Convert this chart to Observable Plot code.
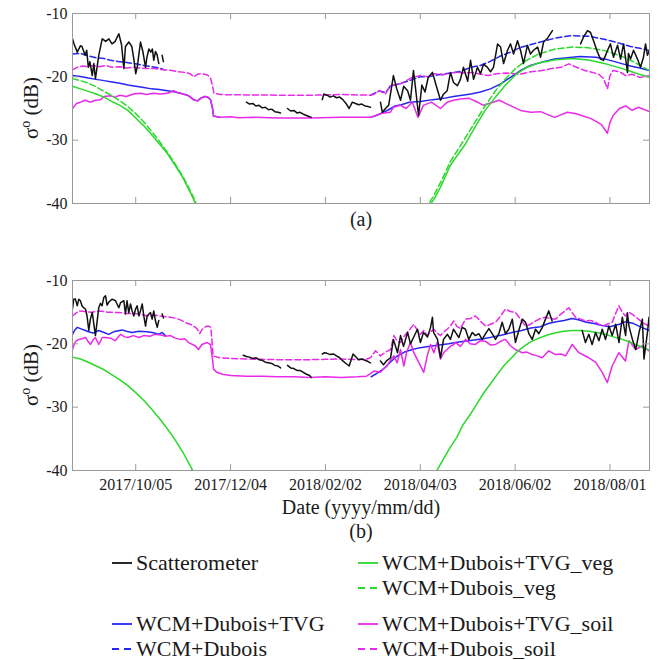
<!DOCTYPE html>
<html><head><meta charset="utf-8">
<script src="https://cdn.jsdelivr.net/npm/d3@7"></script>
<script src="https://cdn.jsdelivr.net/npm/@observablehq/plot@0.6"></script>
<style>
body{margin:0;background:#fff;}
#chart{position:relative;width:668px;height:660px;font-family:"Liberation Serif",serif;}
#chart > svg{position:absolute;left:0;}
</style></head><body><div id="chart"></div>
<script>
// Dates are given as days since START (2017-08-26)
const START = Date.UTC(2017, 7, 26);
const END = Date.UTC(2018, 7, 26);
const xTickDates = ["2017-10-05","2017-12-04","2018-02-02","2018-04-03","2018-06-02","2018-08-01"];
const yTicks = [-40, -30, -20, -10];
const yLabel = ["σ", "o", " (dB)"];
const xLabel = "Date (yyyy/mm/dd)";
const panelLabels = ["(a)", "(b)"];

const seriesNames = ["Scatterometer","WCM+Dubois+TVG","WCM+Dubois","WCM+Dubois+TVG_veg","WCM+Dubois_veg","WCM+Dubois+TVG_soil","WCM+Dubois_soil"];
const seriesColors = ["#111111","#2626f2","#2626f2","#2ad92a","#2ad92a","#ea2aea","#ea2aea"];
const seriesDashed = [false,false,true,false,true,false,true];

// ---------- Panel (a) ----------
const a_scat = [[0,-14.0],[1,-14.8],[3,-16.1],[5,-15.1],[6,-15.2],[8,-16.6],[9,-15.8],[10,-18.5],[11,-17.6],[12.5,-19.8],[13.5,-17.9],[14.5,-20.3],[15.5,-18.6],[16.6,-16.6],[18.8,-14.0],[20,-14.2],[21,-14.4],[23,-14.0],[25,-14.8],[27,-14.4],[29.3,-13.2],[31,-14.9],[32.5,-18.7],[33.5,-15.2],[35.6,-14.5],[37.5,-15.2],[38.8,-17.2],[40,-19.5],[41,-18.4],[43,-14.5],[44.5,-16.0],[46.2,-18.5],[47,-17.0],[48.3,-15.6],[49.5,-16.1],[50.5,-15.6],[51.4,-17.4],[52.5,-16.0],[53.5,-16.5],[54.6,-17.9],[55.5,null],[56.7,-16.6],[57.5,-17.6],[58,null],
[110,-24.0],[112,-24.3],[114,-24.2],[116,-24.6],[118,-24.5],[120,-24.9],[122,-24.8],[124,-25.2],[126,-25.1],[128,-25.5],[130,-25.6],[131.6,-25.7],[133,null],[136,-25.0],[138,-25.4],[140,-25.3],[142,-25.7],[144,-25.6],[146,-25.9],[148,-26.1],[150,-26.3],[151,-26.4],[152,null],
[158,-23.6],[159,-22.7],[161,-22.9],[163,-23.2],[165,-23.0],[167,-23.3],[169,-23.2],[171,-23.6],[173,-24.2],[175,-25.0],[177,-24.0],[179,-24.2],[181,-24.4],[183,-24.3],[185,-24.6],[187,-24.7],[188.5,-24.8],[190,null],
[194.8,-24.0],[196,-25.6],[198,-25.0],[200,-24.5],[203,-19.8],[205,-21.8],[207.5,-23.7],[209.5,-21.5],[212,-22.2],[213.8,-23.7],[215.7,-19.0],[217,-21.8],[218.9,-26.1],[221,-21.3],[223,-22.4],[225,-20.1],[227.7,-19.3],[229.5,-20.9],[232.8,-23.7],[234.5,-22.8],[237,-22.2],[239.1,-19.3],[241,-20.9],[243.5,-21.4],[245.4,-20.4],[247.3,-18.5],[250,-20.7],[251.8,-17.4],[253.7,-20.4],[256.2,-18.5],[258.1,-19.5],[260,-18.0],[262.5,-18.5],[264.4,-19.2],[266.3,-18.5],[268.9,-14.8],[270.8,-15.3],[272.7,-17.9],[275.2,-15.8],[277.1,-14.8],[279,-16.4],[281.5,-14.3],[283.4,-15.8],[285.3,-17.9],[287.8,-15.0],[289.7,-16.4],[291.6,-15.8],[294.2,-15.3],[296.1,-16.9],[298,-14.5],[300.5,-13.9],[303.6,-12.7],[305,null],
[321.4,-14.8],[323.3,-13.7],[325.8,-12.7],[327.7,-13.0],[329.6,-14.3],[332.1,-16.1],[334,-17.2],[335.9,-17.4],[338.5,-15.8],[340.3,-14.8],[342.2,-16.9],[344.8,-15.0],[346.7,-17.2],[348.6,-14.8],[351.1,-19.3],[351.7,-16.3],[353,-17.2],[354.9,-15.8],[357.4,-17.2],[359.3,-18.5],[361.2,-16.9],[362.5,-14.8],[363.7,-16.6],[365,-15.8]];

const a_tvg = [[0,-19.8],[5,-19.95],[10,-20.2],[15,-20.4],[20,-20.6],[25,-20.8],[30,-21.0],[35,-21.3],[40,-21.5],[45,-21.7],[50,-21.9],[55,-22.0],[60,-22.2],[65,-22.4],[68.3,-22.6],[72.7,-22.9],[74.6,-23.2],[76.5,-23.6],[79.1,-23.8],[81,-23.4],[83.5,-23.1],[85.4,-23.2],[87.3,-23.6],[88.6,-25.0],[89.2,-26.2],[93.6,-26.4],[94,null],
[188.5,-26.4],[192,-26.1],[196,-25.7],[200,-25.2],[204,-24.6],[208,-24.4],[213,-24.0],[220,-23.9],[228,-23.6],[235,-23.4],[241,-23.1],[245.4,-22.95],[252,-22.7],[258,-22.4],[264.4,-21.9],[270.8,-21.1],[277,-20.1],[283.4,-19.0],[289.7,-18.2],[298,-17.6],[305,-17.2],[313,-17.0],[321,-16.8],[331,-16.9],[337,-17.2],[343,-17.6],[348,-17.95],[353,-18.3],[359,-18.6],[365,-19.0]];

const a_dub = [[0,-16.4],[5,-16.3],[10,-16.7],[15,-17.0],[20,-17.1],[24,-17.4],[30,-17.6],[36,-17.8],[40,-17.95],[45,-18.2],[50,-18.4],[55,-18.6],[58,-18.9],[59,null],
[188.5,-22.9],[191,-22.6],[194,-22.2],[198,-22.5],[201,-21.5],[205,-21.2],[208,-21.0],[213,-20.6],[220,-20.0],[225,-20.0],[233,-19.6],[240,-19.4],[246,-19.1],[252,-18.5],[258,-18.2],[264,-17.6],[270,-16.8],[277,-16.1],[283,-15.4],[290,-14.9],[296,-14.5],[305,-13.9],[315,-13.5],[327,-13.6],[337,-14.1],[346,-14.7],[353,-15.2],[359,-15.5],[365,-15.85]];

const a_vegTvg = [[0,-21.5],[5,-21.9],[10,-22.3],[15,-22.7],[20,-23.2],[25,-23.9],[30,-24.5],[35,-25.3],[40,-26.5],[45,-27.7],[50,-29.1],[55,-30.6],[60,-32.1],[65,-34.0],[70,-36.0],[75,-38.5],[80,-41.2],[81,null],
[224,-41.0],[229,-39.2],[233,-37.3],[239,-34.0],[242,-32.9],[248.6,-30.6],[255,-27.8],[261,-25.3],[267.6,-23.2],[273.9,-21.3],[280.2,-19.7],[286.6,-18.6],[294.8,-17.8],[305.5,-17.3],[316.3,-17.1],[326.4,-17.35],[337.2,-17.95],[347.9,-18.7],[356.1,-19.4],[365,-20.1]];

const a_vegDub = [[0,-20.3],[5,-20.6],[10,-21.0],[15,-21.6],[20,-22.3],[25,-23.0],[30,-23.8],[35,-24.7],[40,-25.8],[45,-27.1],[50,-28.6],[55,-30.2],[60,-31.9],[65,-33.8],[70,-35.8],[75,-38.2],[80,-41.0],[81,null],
[223,-41.0],[228,-39.0],[233,-36.6],[239,-33.4],[242,-32.2],[248.6,-29.6],[255,-27.0],[261,-24.6],[267.6,-22.2],[273.9,-20.3],[280.2,-18.7],[286.6,-17.5],[294.8,-16.4],[305.5,-15.6],[316.3,-15.3],[326.4,-15.4],[337.2,-15.9],[347.9,-16.8],[356.1,-17.8],[365,-19.0]];

const a_soilTvg = [[0,-25.0],[2.5,-24.2],[5,-24.0],[8,-23.7],[11,-24.0],[14.5,-23.7],[17.7,-23.6],[20,-23.1],[24,-23.0],[27,-23.2],[30,-22.9],[34,-23.1],[38.6,-22.7],[43,-22.6],[47,-22.8],[51,-22.6],[55.7,-22.7],[60,-22.6],[64,-22.2],[66.4,-22.5],[68.3,-22.6],[72.7,-22.9],[74.6,-23.2],[76.5,-23.6],[79.1,-23.8],[81,-23.4],[83.5,-23.1],[85.4,-23.2],[87.3,-23.6],[88.6,-25.0],[89.2,-26.2],[93.6,-26.4],[100,-26.3],[105,-26.45],[115,-26.4],[130,-26.5],[150,-26.5],[170,-26.4],[185,-26.4],[188.5,-26.4],[192,-26.1],[195,-25.8],[201,-25.6],[203,-24.8],[207.5,-24.5],[211,-25.0],[215,-24.0],[218.5,-26.4],[222,-24.5],[227,-24.0],[232.8,-25.0],[237,-24.0],[241,-23.7],[245.4,-23.5],[251,-23.4],[257,-24.1],[260,-24.5],[266,-24.0],[270,-23.7],[274,-24.2],[283.4,-25.3],[290,-25.6],[296,-25.5],[305,-26.4],[313,-25.6],[318,-25.8],[322,-26.1],[328,-26.6],[334.5,-27.5],[338.4,-28.9],[340,-27.2],[342,-26.1],[346,-25.0],[350,-24.6],[354,-25.3],[358,-24.8],[365,-25.5]];

const a_soilDub = [[0,-18.9],[3,-18.5],[6,-18.3],[10,-18.4],[13,-18.2],[17,-18.4],[21,-18.2],[25,-18.5],[30,-18.4],[34,-18.6],[39,-18.5],[43,-18.6],[47,-18.7],[52,-18.7],[58,-18.9],[63,-19.0],[66.5,-19.2],[71,-19.3],[74.6,-19.5],[76.5,-20.0],[79,-19.6],[81,-19.5],[83.5,-19.6],[85.4,-19.7],[87.3,-20.2],[88.6,-21.5],[89.5,-22.6],[93.6,-22.8],[110,-22.85],[130,-22.9],[150,-22.9],[170,-22.8],[188.5,-22.9],[191,-22.7],[194,-22.2],[198,-22.7],[201,-21.4],[207.5,-21.1],[211,-20.6],[215,-20.1],[220,-19.8],[225,-20.0],[229,-19.5],[234,-19.7],[238,-19.4],[243,-19.3],[248,-19.4],[253,-19.3],[258,-19.6],[263,-19.8],[268,-19.5],[275,-19.4],[283,-19.6],[290,-19.2],[297,-19.0],[303,-18.7],[309,-18.5],[314,-17.95],[318,-18.4],[324,-19.0],[329,-19.3],[333,-19.6],[336,-20.3],[338.4,-21.9],[340,-19.8],[342,-19.0],[346,-19.2],[350,-19.8],[354,-19.6],[359,-20.1],[365,-19.8]];

// ---------- Panel (b) ----------
const b_scat = [[0,-14.5],[0.8,-12.95],[1.8,-12.9],[3,-14.0],[4,-12.95],[5,-13.2],[6,-14.0],[7,-14.3],[8.2,-14.5],[9.2,-15.6],[10.3,-17.9],[11.3,-16.1],[12.5,-15.05],[13.5,-16.9],[14.5,-18.7],[15.5,-16.6],[16.6,-14.3],[17.7,-13.6],[18.7,-14.0],[19.8,-12.7],[20.9,-12.4],[21.9,-13.9],[23,-13.4],[25.1,-12.95],[27.2,-13.2],[29.3,-14.3],[30.4,-13.5],[32.5,-13.2],[33.5,-15.3],[34.5,-13.2],[35.6,-15.1],[36.7,-13.7],[37.7,-14.8],[38.8,-15.6],[39.9,-14.5],[40.9,-14.0],[42,-15.6],[43,-14.8],[44.1,-13.7],[45.1,-15.6],[46.2,-17.2],[47.2,-15.6],[49.3,-15.05],[50.4,-16.1],[51.4,-14.8],[52.5,-16.4],[53.6,-17.4],[54.6,-16.3],[55.5,null],[56.7,-15.3],[57.5,-15.9],[58,null],
[108,-21.8],[110,-22.0],[112,-22.1],[114,-22.3],[116,-22.2],[118,-22.5],[120,-22.6],[122,-22.9],[124,-23.0],[126,-23.1],[128,-23.4],[130,-23.5],[131.6,-23.8],[133,null],[136,-23.4],[138,-23.8],[140,-23.9],[142,-24.2],[144,-24.2],[146,-24.5],[148,-24.8],[150,-25.0],[151,-25.3],[152,null],
[158,-21.6],[159.5,-21.4],[161,-21.5],[163,-21.7],[165,-21.6],[167,-21.9],[169,-22.2],[171,-22.7],[173,-23.1],[175,-23.5],[177.5,-21.6],[179,-22.0],[181,-22.5],[183,-22.4],[185,-22.6],[187,-22.8],[188.5,-23.0],[190,null],
[194.8,-22.7],[196.7,-23.3],[199,-22.6],[201.2,-22.2],[203,-19.3],[205.6,-21.4],[207.5,-18.7],[209.4,-20.4],[212,-18.2],[213.8,-20.0],[215.7,-19.0],[218.2,-17.7],[220.1,-19.8],[222,-18.2],[224.6,-18.9],[226.5,-17.4],[227.7,-15.8],[228.4,-18.2],[230.9,-19.3],[232.8,-22.2],[234.7,-19.3],[237.2,-18.5],[239.1,-19.3],[241,-17.7],[242.3,-18.2],[244.4,-19.0],[246.5,-17.4],[248.6,-17.7],[250.7,-19.3],[252.9,-18.2],[254.9,-18.7],[257,-18.4],[259.2,-19.3],[261.3,-18.4],[263.4,-17.6],[265.5,-18.4],[267.6,-19.3],[269.7,-18.4],[271.8,-16.6],[273.9,-18.4],[276,-17.7],[278.2,-16.1],[280.2,-19.8],[282.3,-17.9],[284.5,-16.1],[286.6,-16.6],[288.7,-18.4],[290.8,-19.3],[292.9,-17.7],[295,-18.4],[297.2,-17.4],[299.2,-16.1],[301.3,-14.8],[303.4,-16.4],[304.5,null],
[322.4,-17.9],[324.5,-19.8],[326.6,-18.5],[328.7,-20.1],[330.9,-18.2],[333,-19.5],[335.1,-17.7],[337.2,-19.3],[339.3,-17.2],[341.4,-18.7],[343.6,-16.9],[345.7,-19.8],[347.8,-15.8],[349.9,-18.7],[351,-15.1],[352,-17.2],[354.2,-19.3],[356.3,-20.9],[358.4,-18.2],[360.5,-16.1],[361.5,-22.4],[363.7,-18.2],[364.7,-15.8]];

const b_tvg = [[0,-18.5],[1.5,-17.8],[3,-17.4],[5,-17.6],[8.2,-17.9],[10,-18.1],[13,-18.3],[16.6,-17.9],[20,-18.2],[22.9,-18.5],[26,-18.1],[31.4,-17.8],[34,-18.0],[37.7,-18.2],[42,-18.0],[47,-18.1],[50.5,-18.2],[54.6,-18.5],[56.7,-18.2],[58.8,-18.7],[59,null],
[189,-25.2],[193,-24.6],[197,-23.9],[201,-22.9],[205,-22.0],[210,-21.3],[215,-20.9],[220,-20.6],[226,-20.4],[232,-20.2],[238,-20.0],[242.3,-19.8],[248,-19.6],[254,-19.4],[260,-19.2],[266,-18.9],[271.8,-18.6],[278,-18.2],[284,-17.9],[290,-17.5],[296,-17.3],[301,-16.8],[306,-16.5],[311,-16.3],[316,-16.0],[320,-16.2],[325,-16.6],[330,-16.8],[335,-17.1],[340,-17.3],[346,-16.9],[350,-16.5],[355,-16.8],[360,-17.4],[365,-17.9]];

const b_veg = [[0,-22.1],[5,-22.4],[10,-22.9],[15,-23.5],[20,-24.1],[25,-24.9],[30,-25.7],[35,-26.6],[40,-27.7],[45,-28.9],[50,-30.3],[55,-31.8],[60,-33.4],[65,-35.2],[70,-37.2],[75,-39.5],[80,-42.0],[81,null],
[229,-40.5],[231,-39.8],[239,-36.3],[243,-34.8],[247,-32.8],[252,-31.0],[256,-29.4],[260,-27.8],[264.4,-26.3],[268.5,-24.9],[272.7,-23.5],[277,-22.4],[281.5,-21.2],[285.5,-20.4],[289.7,-19.7],[295,-19.1],[300.5,-18.6],[305,-18.3],[310.6,-18.0],[316,-17.9],[321.4,-17.9],[327,-18.0],[332.1,-18.25],[337,-18.5],[342.2,-18.9],[347.9,-19.3],[353,-19.8],[358,-20.3],[365,-21.0]];

const b_soilTvg = [[0,-20.9],[1,-20.1],[2,-19.6],[4,-19.3],[6,-19.2],[8.2,-19.0],[9.5,-19.5],[11.4,-20.1],[13,-19.4],[14.5,-19.0],[16.6,-20.1],[18.8,-19.0],[21,-19.0],[24,-19.1],[27,-19.5],[30.4,-18.5],[33,-18.9],[35,-19.0],[38.6,-18.7],[42,-19.0],[45,-18.7],[49,-18.8],[52,-18.5],[55.7,-18.6],[59,-18.8],[62,-18.7],[65,-19.1],[68,-19.3],[71,-19.2],[73.4,-19.8],[77.6,-20.3],[79.7,-20.9],[81.9,-20.1],[85,-19.8],[87.3,-20.1],[88.6,-22.5],[89.2,-24.0],[91.3,-24.5],[95,-24.8],[100,-25.0],[110,-25.1],[120,-25.1],[130,-25.2],[140,-25.2],[150,-25.3],[160,-25.2],[170,-25.3],[180,-25.2],[186,-25.1],[188.5,-24.7],[190.6,-24.3],[194.8,-24.5],[197,-23.9],[199,-23.5],[201,-22.6],[203.3,-21.9],[205.4,-23.0],[207.5,-20.9],[209.6,-23.5],[211.5,-21.2],[213.8,-19.8],[215.9,-21.4],[218,-22.4],[222.2,-24.5],[224.4,-21.9],[226.5,-20.1],[228.6,-21.4],[230.7,-19.8],[232.8,-22.4],[235,-21.3],[237,-20.9],[239,-20.4],[241.2,-20.1],[242.3,-19.8],[245.5,-20.4],[248.6,-19.3],[251.5,-20.0],[254.9,-20.1],[258,-19.5],[261.3,-19.6],[264.5,-20.2],[267.6,-20.1],[270.8,-19.6],[273.9,-19.3],[277,-20.3],[280.2,-20.9],[284.5,-21.4],[287.5,-21.3],[290.8,-21.7],[294,-21.9],[297.1,-22.2],[301.3,-21.1],[305.5,-21.7],[309,-21.6],[311.9,-21.9],[316.1,-20.1],[320.3,-21.4],[323.5,-21.8],[326.6,-22.2],[330.9,-22.9],[335.1,-24.5],[338.3,-26.1],[341.4,-23.5],[345.6,-21.4],[349.8,-22.7],[352,-19.5],[356.2,-20.9],[360.4,-20.3],[364.6,-21.1]];

const b_soilDub = [[0,-15.6],[2,-15.2],[4,-14.8],[8,-14.9],[12,-15.0],[17,-14.8],[22,-15.0],[29,-15.05],[34,-15.2],[38,-15.2],[42,-15.3],[48,-15.6],[53,-15.5],[58,-15.7],[62,-15.8],[66,-16.0],[69,-16.3],[72,-16.7],[75.5,-17.0],[78.7,-17.6],[80.5,-18.4],[82,-17.7],[84,-17.3],[86,-17.2],[87.5,-17.4],[88.2,-19.5],[88.9,-21.9],[93,-22.2],[100,-22.3],[110,-22.4],[120,-22.45],[130,-22.5],[140,-22.5],[150,-22.5],[160,-22.45],[170,-22.4],[180,-22.5],[186,-22.4],[188.5,-22.2],[191.7,-21.1],[194.8,-21.9],[198,-21.3],[201.2,-20.9],[203.3,-18.7],[205.5,-19.6],[207.5,-19.8],[209.5,-18.9],[211.7,-18.2],[213.8,-17.6],[215.9,-16.9],[218,-17.8],[220.1,-18.5],[222.3,-17.9],[224.4,-18.7],[226.5,-18.1],[228.6,-17.7],[230.7,-18.3],[232.8,-18.7],[235,-18.1],[237,-17.7],[239,-17.2],[241.2,-16.4],[243,-17.2],[245.4,-17.6],[248.6,-16.1],[251.8,-16.0],[254.9,-15.6],[258,-16.4],[261.3,-17.2],[264.4,-16.9],[267.6,-16.6],[270.8,-15.6],[273.9,-14.5],[277,-14.9],[280.2,-15.05],[283.4,-16.1],[286.6,-17.2],[289.7,-16.9],[292.9,-16.4],[296,-16.0],[299.2,-15.8],[302.4,-16.0],[305.5,-16.1],[309,-15.3],[314,-14.3],[318.2,-15.8],[321.4,-16.1],[324.5,-16.4],[327.7,-16.3],[330.9,-16.6],[335.1,-17.2],[338.3,-16.9],[341.4,-16.6],[343.6,-15.2],[345.6,-14.0],[347.8,-15.0],[349.8,-15.6],[352,-15.0],[354,-15.3],[357,-15.9],[360.4,-16.6],[364.6,-17.2]];

// series index -> data, in drawing order
const panelA = [[2,a_dub],[1,a_tvg],[6,a_soilDub],[5,a_soilTvg],[4,a_vegDub],[3,a_vegTvg],[0,a_scat]];
const panelB = [[1,b_tvg],[6,b_soilDub],[5,b_soilTvg],[3,b_veg],[0,b_scat]];

// legend layout: [series index, column, row]
const legendItems = [[0,0,0],[1,0,2],[2,0,3],[3,1,0],[4,1,1],[5,1,2],[6,1,3]];

// ---------- drawing ----------
const FONT = "Liberation Serif";
const toDate = d => new Date(START + d * 864e5);
const parseDate = s => new Date(s + "T00:00:00Z");
const xt = xTickDates.map(parseDate);
const frameW = 668 - 72 - 19, frameH = 190, tickLen = 6, axisColor = "#9a9a9a";

function panel(list, opts) {
  const marks = list.map(([i, data]) => Plot.line(data, {
    x: d => toDate(d[0]), y: d => d[1] == null ? NaN : d[1],
    stroke: seriesColors[i], strokeWidth: 1.5,
    strokeDasharray: seriesDashed[i] ? "6,3" : undefined, clip: true
  }));
  marks.push(
    Plot.frame({stroke: axisColor}),
    Plot.ruleX(xt, {x: d => d, insetTop: frameH - tickLen, stroke: axisColor}),
    Plot.ruleX(xt, {x: d => d, insetBottom: frameH - tickLen, stroke: axisColor}),
    Plot.ruleY(yTicks, {y: d => d, insetRight: frameW - tickLen, stroke: axisColor}),
    Plot.ruleY(yTicks, {y: d => d, insetLeft: frameW - tickLen, stroke: axisColor}),
    Plot.axisY({ticks: yTicks, tickSize: 0, tickPadding: 5, tickFormat: d => String(d), fontSize: 16, fontFamily: FONT, label: null})
  );
  if (opts.xAxis) marks.push(Plot.axisX({ticks: xt, tickSize: 0, tickPadding: 8, tickFormat: d3.utcFormat("%Y/%m/%d"), fontSize: 16, fontFamily: FONT, label: null}));
  for (const [t, dy] of opts.texts) marks.push(Plot.text([t], {text: d => d, frameAnchor: "bottom", lineAnchor: "middle", dy, fontSize: 20, fontFamily: FONT}));
  const svg = Plot.plot({
    width: 668, height: opts.height, marginLeft: 72, marginRight: 19,
    marginTop: opts.marginTop, marginBottom: opts.height - opts.marginTop - frameH,
    style: {fontFamily: FONT, fontSize: "16px", color: "#1a1a1a", background: "transparent", overflow: "visible"},
    x: {type: "utc", domain: [new Date(START), new Date(END)], axis: opts.xAxis ? undefined : null},
    y: {domain: [-40, -10]},
    marks
  });
  const cy = opts.marginTop + frameH / 2;
  const t = d3.select(svg).append("text")
    .attr("transform", `translate(38,${cy}) rotate(-90)`)
    .attr("text-anchor", "middle").attr("font-family", FONT).attr("font-size", 21).attr("fill", "#1a1a1a");
  t.append("tspan").text(yLabel[0]);
  t.append("tspan").attr("dy", -8).attr("font-size", 14).text(yLabel[1]);
  t.append("tspan").attr("dy", 8).text(yLabel[2]);
  svg.style.top = opts.top + "px";
  return svg;
}

const chart = document.getElementById("chart");
chart.append(panel(panelA, {top: 0, height: 240, marginTop: 13, xAxis: false, texts: [[panelLabels[0], 16]]}));
chart.append(panel(panelB, {top: 260, height: 290, marginTop: 20, xAxis: true, texts: [[xLabel, 37], [panelLabels[1], 61]]}));

// legend
const legTop = 550, colX = [112, 358], rowY = [13, 38, 74, 99];
const leg = d3.create("svg").attr("width", 668).attr("height", 110).style("top", legTop + "px");
for (const [i, c, r] of legendItems) {
  const x = colX[c], y = rowY[r];
  leg.append("line").attr("x1", x).attr("x2", x + 20).attr("y1", y).attr("y2", y)
    .attr("stroke", seriesColors[i]).attr("stroke-width", 1.8)
    .attr("stroke-dasharray", seriesDashed[i] ? "7,5" : null);
  leg.append("text").attr("x", x + 24).attr("y", y).attr("dy", "0.33em")
    .attr("font-family", FONT).attr("font-size", 22).attr("fill", "#1a1a1a").text(seriesNames[i]);
}
chart.append(leg.node());
</script></body></html>
